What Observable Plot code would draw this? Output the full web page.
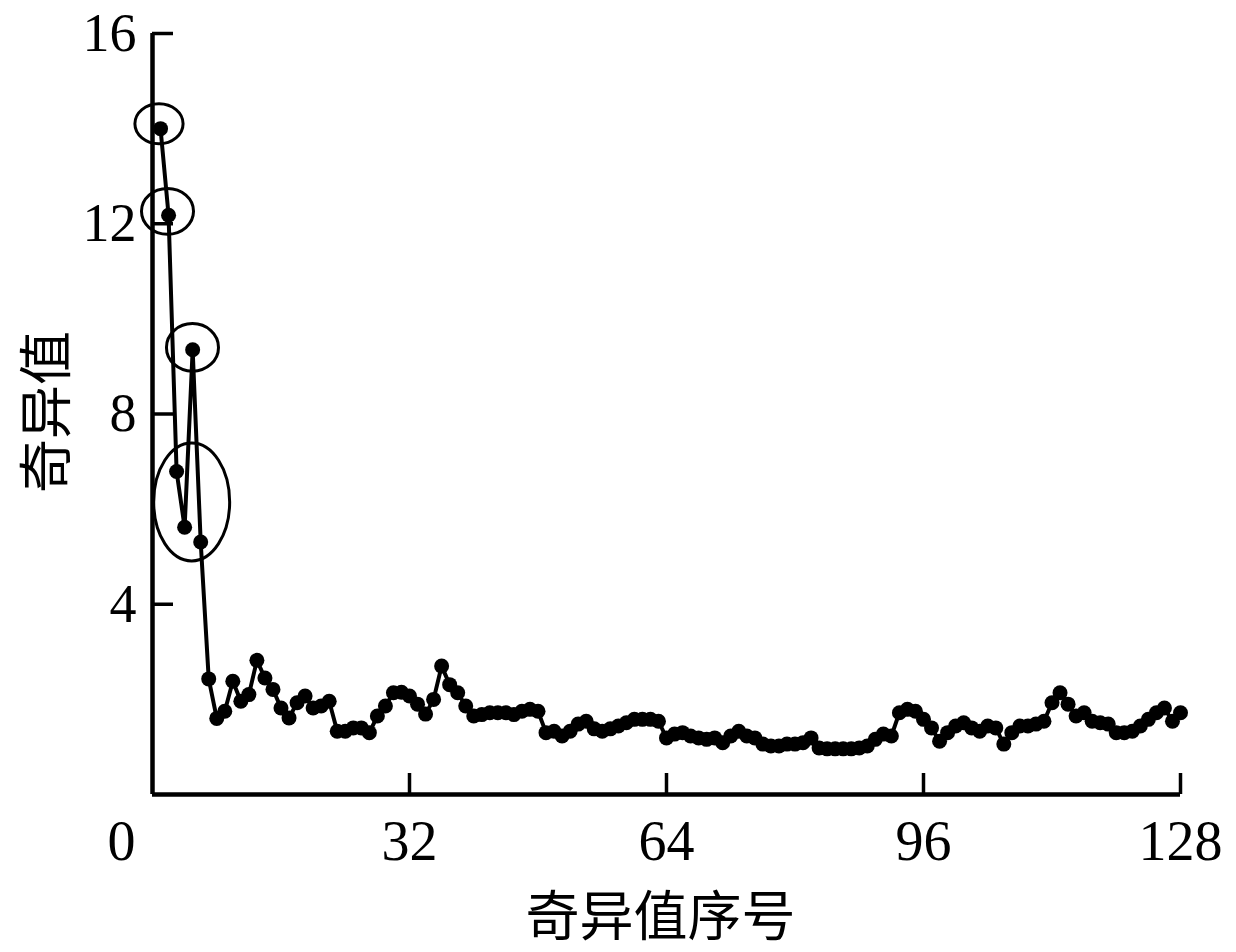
<!DOCTYPE html>
<html>
<head>
<meta charset="utf-8">
<script src="https://cdn.jsdelivr.net/npm/d3@7"></script>
<script src="https://cdn.jsdelivr.net/npm/@observablehq/plot@0.6"></script>
<style>
  html, body { margin: 0; padding: 0; background: #fff; }
  #chart { width: 1236px; height: 952px; }
</style>
</head>
<body>
<div id="chart"></div>
<script>
// ---- data ----
const singularValues = [
  14.0, 12.18, 6.79, 5.62, 9.35, 5.31, 2.43, 1.60, 1.75, 2.38,
  1.96, 2.10, 2.82, 2.45, 2.21, 1.82, 1.61, 1.93, 2.07, 1.82,
  1.86, 1.96, 1.33, 1.33, 1.40, 1.40, 1.30, 1.65, 1.86, 2.14,
  2.15, 2.07, 1.90, 1.69, 2.00, 2.70, 2.31, 2.14, 1.86, 1.65,
  1.68, 1.72, 1.72, 1.72, 1.68, 1.75, 1.79, 1.75, 1.30, 1.33,
  1.23, 1.33, 1.48, 1.54, 1.38, 1.33, 1.38, 1.44, 1.51, 1.58,
  1.58, 1.58, 1.54, 1.19, 1.27, 1.30, 1.23, 1.19, 1.16, 1.19,
  1.09, 1.23, 1.33, 1.23, 1.19, 1.06, 1.02, 1.02, 1.06, 1.06,
  1.09, 1.19, 0.98, 0.96, 0.96, 0.96, 0.96, 0.98, 1.02, 1.16,
  1.27, 1.23, 1.72, 1.79, 1.75, 1.58, 1.40, 1.12, 1.30, 1.44,
  1.51, 1.40, 1.33, 1.44, 1.40, 1.06, 1.30, 1.44, 1.44, 1.48,
  1.54, 1.93, 2.14, 1.90, 1.65, 1.72, 1.54, 1.51, 1.48, 1.30,
  1.30, 1.33, 1.44, 1.58, 1.72, 1.82, 1.54, 1.72
];
const indices = singularValues.map((_, i) => i + 1);

const xTickValues = [32, 64, 96, 128];
const xZeroLabel = [0];
const yTickValues = [4, 8, 12, 16];
const xDomain = [0, 128];
const yDomain = [0, 16];

const xTitle = "奇异值序号";
const yTitle = "奇异值";

// annotation ellipses (data units: centre, radii)
const ellCx = [0.87, 1.93, 5.04, 4.94];
const ellCy = [14.09, 12.25, 9.39, 6.14];
const ellRx = [3.0, 3.24, 3.24, 4.73];
const ellRy = [0.42, 0.48, 0.50, 1.24];

// ---- chart ----
const data = indices.map((x, i) => ({x, y: singularValues[i]}));
const serif = "'Liberation Serif', 'Times New Roman', serif";
const cjk = "'Noto Sans CJK SC', sans-serif";

const ellipses = (index, scales) => {
  const g = d3.create("svg:g");
  for (let i = 0; i < ellCx.length; i++) {
    const cx = scales.x(ellCx[i]), cy = scales.y(ellCy[i]);
    const rx = Math.abs(scales.x(ellCx[i] + ellRx[i]) - cx);
    const ry = Math.abs(scales.y(ellCy[i] + ellRy[i]) - cy);
    g.append("ellipse")
      .attr("cx", cx).attr("cy", cy).attr("rx", rx).attr("ry", ry)
      .attr("fill", "none").attr("stroke", "black").attr("stroke-width", 3);
  }
  return g.node();
};

const chart = Plot.plot({
  width: 1236,
  height: 952,
  marginLeft: 152,
  marginRight: 56,
  marginTop: 33,
  marginBottom: 158,
  style: {fontFamily: serif, background: "white", color: "black"},
  x: {domain: xDomain},
  y: {domain: yDomain},
  marks: [
    Plot.axisX(xTickValues, {tickSize: -21, tickFormat: () => "", strokeWidth: 3.5, label: null}),
    Plot.axisY(yTickValues, {tickSize: -21, tickFormat: () => "", strokeWidth: 3.5, label: null}),
    Plot.ruleX([xDomain[0]], {y1: yDomain[0], y2: yDomain[1], strokeWidth: 4.5}),
    Plot.ruleY([yDomain[0]], {x1: xDomain[0], x2: xDomain[1], strokeWidth: 4.5}),
    Plot.text(xTickValues, {x: d => d, frameAnchor: "bottom", lineAnchor: "middle", dy: 48, fontSize: 56, fontFamily: serif, fill: "black"}),
    Plot.text(xZeroLabel, {x: d => d, frameAnchor: "bottom", lineAnchor: "middle", dy: 48, dx: -31, fontSize: 56, fontFamily: serif, fill: "black"}),
    Plot.text(yTickValues, {y: d => d, frameAnchor: "left", textAnchor: "end", lineAnchor: "middle", dx: -16, dy: 0, fontSize: 54, fontFamily: serif, fill: "black"}),
    Plot.text([xTitle], {frameAnchor: "bottom", textAnchor: "middle", lineAnchor: "middle", dy: 124, dx: -6, fontSize: 54, fontFamily: cjk, fill: "black"}),
    Plot.text([yTitle], {frameAnchor: "left", textAnchor: "middle", lineAnchor: "middle", dx: -104, dy: -2, rotate: -90, fontSize: 54, fontFamily: cjk, fill: "black"}),
    Plot.line(data, {x: "x", y: "y", stroke: "black", strokeWidth: 4}),
    Plot.dot(data, {x: "x", y: "y", r: 7.5, fill: "black", stroke: "none"}),
    ellipses
  ]
});
document.getElementById("chart").appendChild(chart);
</script>
</body>
</html>
